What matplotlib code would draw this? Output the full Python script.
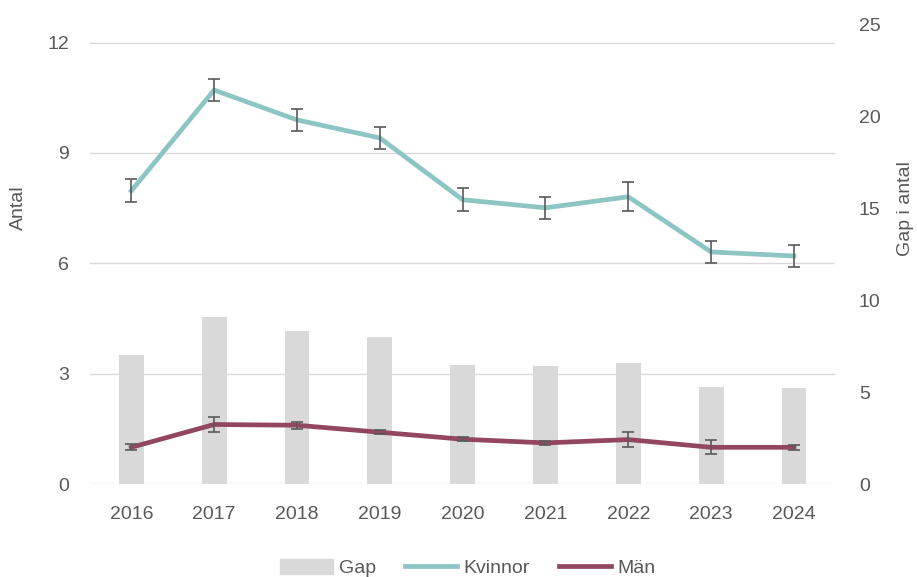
import numpy as np
import matplotlib
matplotlib.use("Agg")
from matplotlib import pyplot as plt
from matplotlib.patches import Patch
from matplotlib.lines import Line2D

years = ["2016", "2017", "2018", "2019", "2020", "2021", "2022", "2023", "2024"]
kvinnor = [7.97, 10.71, 9.9, 9.41, 7.73, 7.51, 7.81, 6.31, 6.2]
kvinnor_err = [0.31, 0.31, 0.3, 0.3, 0.31, 0.3, 0.4, 0.3, 0.3]
man = [1.0, 1.62, 1.6, 1.41, 1.22, 1.12, 1.21, 1.0, 1.0]
man_err = [0.08, 0.2, 0.1, 0.06, 0.06, 0.05, 0.2, 0.19, 0.07]
gap = [7.0, 9.08, 8.3, 8.0, 6.5, 6.4, 6.6, 5.3, 5.2]

text_col = "#595959"
grid_col = "#D9D9D9"
kv_col = "#8CC5C3"
man_col = "#93465F"
bar_col = "#D9D9D9"
fs = 14

plt.rcParams['font.family'] = ['Liberation Sans', 'DejaVu Sans']
plt.rcParams['font.size'] = fs

fig = plt.figure(figsize=(9.17, 5.77), dpi=100)
ax = fig.add_axes([0.098, 0.161, 0.813, 0.797])
x = np.arange(len(years))

# bottom layer: grid
ax.set_ylim(0, 12.5)
ax.set_yticks([0, 3, 6, 9, 12])
ax.yaxis.grid(True, color=grid_col, linewidth=1)
ax.set_xlim(-0.5, len(years) - 0.5)
ax.set_xticks(x)
ax.set_xticklabels(years)
ax.tick_params(length=0, colors=text_col, labelsize=fs)
ax.tick_params(axis='x', pad=16)
ax.tick_params(axis='y', pad=15)
ax.set_ylabel("Antal", color=text_col, fontsize=fs)
ax.yaxis.set_label_coords(-0.085, 0.6)
for s in ax.spines.values():
    s.set_visible(False)

# middle layer: gap bars on right axis
ax2 = ax.twinx()
ax2.bar(x, gap, width=0.3, color=bar_col)
ax2.set_ylim(0, 25)
ax2.set_yticks([0, 5, 10, 15, 20, 25])
ax2.tick_params(length=0, colors=text_col, labelsize=fs, pad=17)
ax2.set_ylabel("Gap i antal", color=text_col, fontsize=fs, rotation=90)
ax2.yaxis.set_label_coords(1.082, 0.6)
for s in ax2.spines.values():
    s.set_visible(False)

# top layer: lines on left scale
ax3 = ax.twinx()
ax3.set_ylim(0, 12.5)
ax3.set_yticks([])
for s in ax3.spines.values():
    s.set_visible(False)
ax3.plot(x, kvinnor, color=kv_col, linewidth=3.4)
ax3.errorbar(x, kvinnor, yerr=kvinnor_err, fmt='none', ecolor="#5A5A5A",
             elinewidth=1.2, capsize=4.5, capthick=1.2)
ax3.plot(x, man, color=man_col, linewidth=3.4)
ax3.errorbar(x, man, yerr=man_err, fmt='none', ecolor="#5A5A5A",
             elinewidth=1.2, capsize=4.5, capthick=1.2)

handles = [Patch(color=bar_col, label="Gap"),
           Line2D([0], [0], color=kv_col, linewidth=3.4, label="Kvinnor"),
           Line2D([0], [0], color=man_col, linewidth=3.4, label="Män")]
leg = fig.legend(handles=handles, loc='center', bbox_to_anchor=(0.51, 0.015),
                 ncol=3, frameon=False, fontsize=fs, handlelength=2.7,
                 handleheight=0.8, columnspacing=1.5, handletextpad=0.3)
for t in leg.get_texts():
    t.set_color(text_col)

fig.savefig("out.png", dpi=100)
